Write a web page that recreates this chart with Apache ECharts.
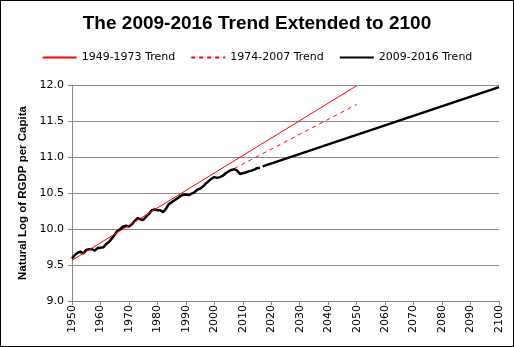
<!DOCTYPE html>
<html>
<head>
<meta charset="utf-8">
<script src="https://cdn.jsdelivr.net/npm/echarts@6/dist/echarts.min.js"></script>
<style>
html,body{margin:0;padding:0;background:#fff;}
#wrap{width:514px;height:347px;box-sizing:border-box;border:1px solid #000;position:relative;}
#c{position:absolute;left:-1px;top:-1px;width:514px;height:347px;}
</style>
</head>
<body>
<div id="wrap"><div id="c"></div></div>
<script>
// Actual data (natural log of real GDP per capita), 1950-2016
const actualYears = [1950,1951,1952,1953,1954,1955,1956,1957,1958,1959,1960,1961,1962,1963,1964,1965,1966,1967,1968,1969,1970,1971,1972,1973,1974,1975,1976,1977,1978,1979,1980,1981,1982,1983,1984,1985,1986,1987,1988,1989,1990,1991,1992,1993,1994,1995,1996,1997,1998,1999,2000,2001,2002,2003,2004,2005,2006,2007,2008,2009,2010,2011,2012,2013,2014,2015,2016];
const actualValues = [9.59,9.64,9.67,9.685,9.66,9.71,9.72,9.72,9.70,9.735,9.74,9.745,9.79,9.82,9.87,9.92,9.975,10.00,10.035,10.045,10.035,10.065,10.11,10.15,10.135,10.125,10.17,10.21,10.26,10.27,10.26,10.26,10.235,10.28,10.345,10.37,10.40,10.425,10.455,10.475,10.48,10.47,10.49,10.51,10.545,10.56,10.59,10.63,10.665,10.70,10.72,10.71,10.72,10.74,10.775,10.80,10.82,10.83,10.81,10.765,10.775,10.785,10.80,10.81,10.825,10.845,10.85];
// Trend lines (endpoints)
const trend4973Years = [1950, 2050];
const trend4973Values = [9.565, 11.99];
const trend7407Years = [2007, 2050];
const trend7407Values = [10.84, 11.73];
const trend0916Years = [2017, 2100];
const trend0916Values = [10.87, 11.97];
const seriesNames = ['1949-1973 Trend','1974-2007 Trend','2009-2016 Trend'];
const yTicks = [9.0, 9.5, 10.0, 10.5, 11.0, 11.5, 12.0];
const xTicks = [1950,1960,1970,1980,1990,2000,2010,2020,2030,2040,2050,2060,2070,2080,2090,2100];

const pairs = (xs, ys) => xs.map((x, i) => [x, ys[i]]);

const chart = echarts.init(document.getElementById('c'), null, {renderer:'canvas'});
const labelFont = 'DejaVu Sans';
chart.setOption({
  animation:false,
  title:{
    text:'The 2009-2016 Trend Extended to 2100',
    left:'center', top:9,
    textStyle:{fontFamily:'Liberation Sans', fontWeight:'bold', fontSize:19, color:'#000'}
  },
  legend:{
    top:47, left:'center', itemWidth:34, itemHeight:10, itemGap:15,
    itemStyle:{opacity:0},
    textStyle:{fontFamily:labelFont, fontSize:11, color:'#000'},
    data:seriesNames
  },
  grid:{left:72, right:15, top:85, bottom:46, containLabel:false},
  xAxis:{
    type:'value', min:xTicks[0], max:xTicks[xTicks.length-1], interval:10,
    axisLine:{lineStyle:{color:'#888'}},
    axisTick:{show:true, length:4, lineStyle:{color:'#888'}},
    axisLabel:{rotate:90, fontFamily:labelFont, fontSize:11, color:'#000', margin:4, formatter:v=>String(v)},
    splitLine:{show:false}
  },
  yAxis:{
    type:'value', min:yTicks[0], max:yTicks[yTicks.length-1], interval:0.5,
    name:'Natural Log of RGDP per Capita', nameLocation:'middle', nameGap:32,
    nameTextStyle:{fontFamily:'Liberation Sans', fontWeight:'bold', fontSize:11.5, color:'#000'},
    axisLine:{show:true, lineStyle:{color:'#888'}},
    axisTick:{show:true, length:4, lineStyle:{color:'#888'}},
    axisLabel:{fontFamily:labelFont, fontSize:11, color:'#000', margin:8, formatter:v=>v.toFixed(1)},
    splitLine:{show:true, lineStyle:{color:'#8a8a8a', width:1}}
  },
  series:[
    {name:'actual', type:'line', data:pairs(actualYears, actualValues), symbol:'none',
     lineStyle:{color:'#000', width:2.5}, itemStyle:{color:'#000'}, z:3},
    {name:seriesNames[0], type:'line', data:pairs(trend4973Years, trend4973Values), symbol:'none',
     lineStyle:{color:'#ff0000', width:1}, itemStyle:{color:'#ff0000'}, z:4},
    {name:seriesNames[1], type:'line', data:pairs(trend7407Years, trend7407Values), symbol:'none',
     lineStyle:{color:'#ff0000', width:1, type:[4,4]}, itemStyle:{color:'#ff0000'}, z:4},
    {name:seriesNames[2], type:'line', data:pairs(trend0916Years, trend0916Values), symbol:'none',
     lineStyle:{color:'#000', width:2.5}, itemStyle:{color:'#000'}, z:3}
  ]
});
</script>
</body>
</html>
